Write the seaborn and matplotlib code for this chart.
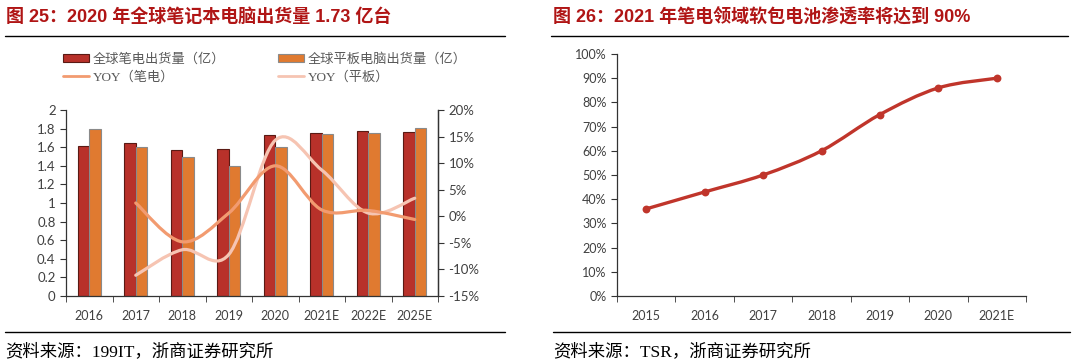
import matplotlib
matplotlib.use('Agg')
import matplotlib.pyplot as plt
from matplotlib.path import Path
from matplotlib.patches import PathPatch, Patch
from matplotlib.lines import Line2D
import numpy as np
import pandas as pd
import seaborn as sns

# data
years_left = ['2016', '2017', '2018', '2019', '2020', '2021E', '2022E', '2025E']
notebook = [1.61, 1.65, 1.57, 1.58, 1.73, 1.75, 1.77, 1.76]
tablet = [1.80, 1.60, 1.50, 1.40, 1.60, 1.74, 1.75, 1.81]
# yoy starts in 2017
yoy_notebook = [0.025, -0.048, 0.006, 0.095, 0.012, 0.011, -0.006]
yoy_tablet = [-0.111, -0.063, -0.072, 0.143, 0.087, 0.006, 0.034]

years_right = ['2015', '2016', '2017', '2018', '2019', '2020', '2021E']
soft_pack = [0.36, 0.43, 0.50, 0.60, 0.75, 0.86, 0.90]

series_names = ['全球笔电出货量（亿）', '全球平板电脑出货量（亿）']
line_names = ['YOY（笔电）', 'YOY（平板）']

c_nb = '#B8312A'
c_tab = '#E07A30'
c_yoy_nb = '#F29B70'
c_yoy_tab = '#F6C4B2'
c_title = '#B01515'
c_tick = '#404040'

sns.set_style('ticks')
plt.rcParams['font.family'] = ['Lato', 'DejaVu Sans']
plt.rcParams['axes.linewidth'] = 0.9

cjk_serif = ['Liberation Serif', 'Noto Sans CJK SC']
title_font = ['Liberation Sans', 'Noto Sans CJK SC']


def smooth_path(xs, ys):
    # excel-like smoothed line (catmull-rom as bezier)
    pts = np.column_stack([xs, ys]).astype(float)
    n = len(pts)
    verts = [pts[0]]
    codes = [Path.MOVETO]
    for i in range(n - 1):
        p0 = pts[max(i - 1, 0)]
        p1 = pts[i]
        p2 = pts[i + 1]
        p3 = pts[min(i + 2, n - 1)]
        verts += [p1 + (p2 - p0) / 6, p2 - (p3 - p1) / 6, p2]
        codes += [Path.CURVE4] * 3
    return Path(verts, codes)


fig = plt.figure(figsize=(10.73, 3.64), dpi=100)
W, H = 1073, 364


def fx(px):
    return px / W


def fy(py):
    return 1 - py / H


# ---------------- left chart ----------------
ax = fig.add_axes([fx(66), fy(296), fx(438 - 66), (296 - 110) / H])
df_bar = pd.DataFrame({
    'year': years_left * 2,
    'value': notebook + tablet,
    'series': [series_names[0]] * len(years_left) + [series_names[1]] * len(years_left),
})
sns.barplot(data=df_bar, x='year', y='value', hue='series', palette=[c_nb, c_tab],
            width=0.5, ax=ax, legend=False, saturation=1, linewidth=0.8)
for bar in ax.containers[0]:
    bar.set_edgecolor('#5A1A14')
for bar in ax.containers[1]:
    bar.set_edgecolor('#8A8A8A')

ax.set_xlim(-0.5, len(years_left) - 0.5)
ax.set_ylim(0, 2)
ax.set_yticks(np.arange(0, 2.01, 0.2))
ax.set_yticklabels(['0', '0.2', '0.4', '0.6', '0.8', '1', '1.2', '1.4', '1.6', '1.8', '2'])
ax.set_xticks(range(len(years_left)))
ax.set_xticklabels(years_left)
ax.set_xticks(np.arange(-0.5, len(years_left)), minor=True)
ax.tick_params(axis='x', which='major', length=0, pad=10, labelsize=9, labelcolor=c_tick)
ax.tick_params(axis='x', which='minor', length=4, direction='out', color='#333333')
ax.tick_params(axis='y', length=4, direction='out', labelsize=9.5, labelcolor=c_tick, color='#333333')
ax.set_xlabel('')
ax.set_ylabel('')
for s in ['left', 'bottom']:
    ax.spines[s].set_color('#333333')
ax.spines['top'].set_visible(False)

ax2 = ax.twinx()
ax2.set_ylim(-0.15, 0.20)
ax2.set_yticks(np.arange(-0.15, 0.201, 0.05))
ax2.set_yticklabels([f'{v:.0f}%' for v in np.arange(-15, 21, 5)])
ax2.tick_params(axis='y', length=4, direction='out', labelsize=9.5, labelcolor=c_tick, color='#333333')
ax2.spines['top'].set_visible(False)
ax2.spines['right'].set_color('#333333')
ax2.spines['left'].set_visible(False)
ax2.spines['bottom'].set_visible(False)

xs_yoy = np.arange(1, len(years_left))
ax2.add_patch(PathPatch(smooth_path(xs_yoy, yoy_tablet), fill=False, edgecolor=c_yoy_tab,
                        lw=2.3, capstyle='round'))
ax2.add_patch(PathPatch(smooth_path(xs_yoy, yoy_notebook), fill=False, edgecolor=c_yoy_nb,
                        lw=2.3, capstyle='round'))

handles = [
    Patch(facecolor=c_nb, edgecolor='#5A1A14', linewidth=0.8),
    Line2D([0], [0], color=c_yoy_nb, lw=2),
    Patch(facecolor=c_tab, edgecolor='#8A8A8A', linewidth=0.8),
    Line2D([0], [0], color=c_yoy_tab, lw=2),
]
labels = [series_names[0], line_names[0], series_names[1], line_names[1]]
fig.legend(handles, labels, loc='upper left', bbox_to_anchor=(fx(63), fy(53)), ncol=2,
           frameon=False, borderpad=0, borderaxespad=0, handlelength=2.0, handleheight=0.6,
           handletextpad=0.25, columnspacing=4.0, labelspacing=0.4,
           prop={'family': cjk_serif, 'size': 9.5}, labelcolor='#595959')

# ---------------- right chart ----------------
bx = fig.add_axes([fx(617), fy(296), fx(1026 - 617), (296 - 54) / H])
xs_r = np.arange(len(years_right))
bx.add_patch(PathPatch(smooth_path(xs_r, soft_pack), fill=False, edgecolor='#C0352B',
                       lw=2.4, capstyle='round'))
sns.scatterplot(x=xs_r, y=soft_pack, ax=bx, color='#C0352B', s=32, edgecolor='#C0352B',
                linewidth=0, zorder=3)
bx.set_xlim(-0.5, len(years_right) - 0.5)
bx.set_ylim(0, 1)
bx.set_yticks(np.arange(0, 1.01, 0.1))
bx.set_yticklabels([f'{v}%' for v in range(0, 101, 10)])
bx.set_xticks(xs_r)
bx.set_xticklabels(years_right)
bx.set_xticks(np.arange(-0.5, len(years_right)), minor=True)
bx.tick_params(axis='x', which='major', length=0, pad=10, labelsize=9, labelcolor=c_tick)
bx.tick_params(axis='x', which='minor', length=4, direction='out', color='#333333')
bx.tick_params(axis='y', length=4, direction='out', labelsize=9, labelcolor=c_tick, color='#333333')
for s in ['left', 'bottom']:
    bx.spines[s].set_color('#333333')
bx.spines['top'].set_visible(False)
bx.spines['right'].set_visible(False)

# ---------------- titles, rules, sources ----------------
fig.text(fx(6), fy(17), '图 25：2020 年全球笔记本电脑出货量 1.73 亿台', family=title_font,
         weight='bold', size=13, color=c_title, va='center', ha='left')
fig.text(fx(553), fy(17), '图 26：2021 年笔电领域软包电池渗透率将达到 90%', family=title_font,
         weight='bold', size=13, color=c_title, va='center', ha='left')

for x0, x1, y in [(5, 505, 36), (551, 1068, 36), (5, 505, 332), (553, 1070, 332)]:
    fig.add_artist(Line2D([fx(x0), fx(x1)], [fy(y), fy(y)], color='black', lw=1.0))

fig.text(fx(5), fy(352), '资料来源：199IT，浙商证券研究所', family=cjk_serif, size=12.5,
         color='black', va='center', ha='left')
fig.text(fx(553), fy(352), '资料来源：TSR，浙商证券研究所', family=cjk_serif, size=12.5,
         color='black', va='center', ha='left')

fig.savefig('out.png', dpi=100)
